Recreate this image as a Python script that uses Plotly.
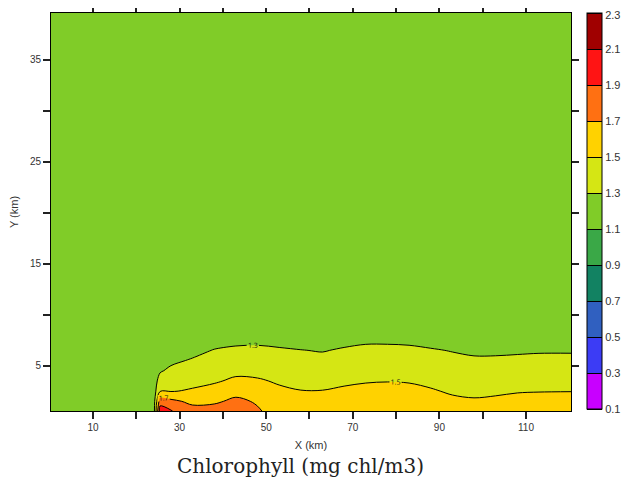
import numpy as np
import plotly.graph_objects as go

# ---- data ----
x_km = [0.3, 24, 25.5, 28, 33, 38, 43, 48, 53, 58, 63, 68, 73, 78, 83, 88, 93, 98, 103, 108, 113, 120.4]
y_km = [0.55, 1.5, 2.5, 3.5, 4.5, 5.5, 6.5, 7.5, 8.5, 39.6]

# chlorophyll profiles (one list per x column, bottom -> top)
chl_columns = [
    [1.20, 1.20, 1.20, 1.20, 1.20, 1.20, 1.20, 1.20, 1.20, 1.20],
    [1.20, 1.20, 1.20, 1.20, 1.20, 1.20, 1.20, 1.20, 1.20, 1.20],
    [2.00, 1.81, 1.49, 1.38, 1.28, 1.20, 1.20, 1.20, 1.20, 1.20],
    [1.91, 1.75, 1.49, 1.42, 1.34, 1.26, 1.20, 1.20, 1.20, 1.20],
    [1.78, 1.65, 1.52, 1.45, 1.38, 1.32, 1.24, 1.20, 1.20, 1.20],
    [1.78, 1.67, 1.56, 1.48, 1.42, 1.36, 1.31, 1.22, 1.20, 1.20],
    [1.82, 1.74, 1.64, 1.53, 1.46, 1.39, 1.33, 1.26, 1.20, 1.20],
    [1.72, 1.68, 1.60, 1.52, 1.45, 1.39, 1.33, 1.27, 1.20, 1.20],
    [1.62, 1.575, 1.53, 1.48, 1.43, 1.37, 1.32, 1.25, 1.20, 1.20],
    [1.60, 1.55, 1.505, 1.455, 1.405, 1.355, 1.305, 1.225, 1.20, 1.20],
    [1.60, 1.55, 1.505, 1.45, 1.40, 1.35, 1.29, 1.21, 1.20, 1.20],
    [1.62, 1.573, 1.525, 1.474, 1.423, 1.372, 1.32, 1.25, 1.20, 1.20],
    [1.63, 1.585, 1.538, 1.49, 1.438, 1.387, 1.336, 1.275, 1.20, 1.20],
    [1.64, 1.59, 1.545, 1.495, 1.442, 1.39, 1.337, 1.275, 1.20, 1.20],
    [1.63, 1.585, 1.538, 1.49, 1.437, 1.384, 1.33, 1.27, 1.20, 1.20],
    [1.61, 1.564, 1.515, 1.465, 1.415, 1.365, 1.315, 1.242, 1.20, 1.20],
    [1.58, 1.531, 1.481, 1.435, 1.388, 1.342, 1.292, 1.208, 1.20, 1.20],
    [1.57, 1.517, 1.467, 1.421, 1.374, 1.328, 1.267, 1.20, 1.20, 1.20],
    [1.58, 1.528, 1.476, 1.427, 1.378, 1.329, 1.267, 1.20, 1.20, 1.20],
    [1.60, 1.546, 1.49, 1.438, 1.387, 1.336, 1.275, 1.20, 1.20, 1.20],
    [1.60, 1.549, 1.495, 1.444, 1.392, 1.341, 1.283, 1.20, 1.20, 1.20],
    [1.60, 1.552, 1.497, 1.446, 1.395, 1.343, 1.283, 1.20, 1.20, 1.20],
]

levels = [0.1, 0.3, 0.5, 0.7, 0.9, 1.1, 1.3, 1.5, 1.7, 1.9, 2.1, 2.3]
level_labels = ["0.1", "0.3", "0.5", "0.7", "0.9", "1.1", "1.3", "1.5", "1.7", "1.9", "2.1", "2.3"]
band_colors = ["#C800FF", "#3C3CF5", "#3060C0", "#128262", "#3AA847",
               "#80CC28", "#D5E614", "#FFD200", "#FF7012", "#FF1414", "#A00000"]

x_ticks = [10, 20, 30, 40, 50, 60, 70, 80, 90, 100, 110]
x_ticktext = ["10", "", "30", "", "50", "", "70", "", "90", "", "110"]
y_ticks = [5, 10, 15, 20, 25, 30, 35]
y_ticktext = ["5", "", "15", "", "25", "", "35"]

# ---- figure ----
z = np.array(chl_columns).T
n = len(band_colors)
# piecewise-constant scale; each band colour is widened so that the sampling
# point plotly uses for a filled band always falls inside its own colour
colorscale = [[0.0, band_colors[0]]]
for k in range(n - 1):
    colorscale.append([(k + 1.25) / n, band_colors[k]])
    colorscale.append([(k + 1.25) / n, band_colors[k + 1]])
colorscale.append([1.0, band_colors[-1]])

step = levels[1] - levels[0]
cbar_tickvals = levels[:-1] + [levels[-1] - 0.012]

fig = go.Figure(go.Contour(
    x=x_km, y=y_km, z=z,
    zmin=levels[0], zmax=levels[-1],
    colorscale=colorscale,
    contours=dict(start=levels[0], end=levels[-1], size=step, coloring="fill",
                  showlines=True, showlabels=True,
                  labelfont=dict(size=7, color="#111")),
    line=dict(color="black", width=1, smoothing=1),
    colorbar=dict(
        x=1.031, xanchor="left", xpad=0, y=1.0, yanchor="top", ypad=0,
        len=0.995, lenmode="fraction", thickness=15,
        outlinecolor="black", outlinewidth=1,
        tickvals=cbar_tickvals, ticktext=level_labels, ticks="",
        tickfont=dict(family="Liberation Sans", size=11, color="#333"),
    ),
))

axis_font = dict(family="Liberation Sans", size=10, color="#333")
fig.update_xaxes(range=[0.3, 120.4], tickvals=x_ticks, ticktext=x_ticktext,
                 ticks="outside", ticklen=7, tickwidth=1.5, tickcolor="#222",
                 showline=True, linecolor="black", linewidth=1, mirror="ticks",
                 showgrid=False, zeroline=False, tickfont=axis_font, automargin=False,
                 title=dict(text="X (km)", font=dict(family="Liberation Sans", size=11, color="#333"), standoff=9))
fig.update_yaxes(range=[0.55, 39.6], tickvals=y_ticks, ticktext=y_ticktext,
                 ticks="outside", ticklen=7, tickwidth=1.5, tickcolor="#222",
                 showline=True, linecolor="black", linewidth=1, mirror="ticks",
                 showgrid=False, zeroline=False, tickfont=axis_font, automargin=False,
                 title=dict(text="Y (km)", font=dict(family="Liberation Sans", size=11, color="#333"), standoff=12))

fig.add_annotation(text="Chlorophyll (mg chl/m3)", xref="paper", yref="paper",
                   x=0.48, y=-0.138, xanchor="center", yanchor="middle", showarrow=False,
                   font=dict(family="DejaVu Serif", size=20, color="#222"))

fig.update_layout(width=637, height=479,
                  margin=dict(l=43, r=74, t=5, b=76, autoexpand=False),
                  paper_bgcolor="white", plot_bgcolor="white",
                  showlegend=False)

fig.write_html("out.html")
